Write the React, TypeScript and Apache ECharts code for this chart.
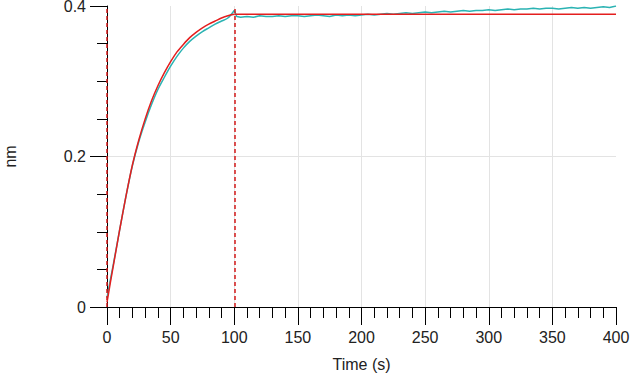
import React, { useEffect, useRef } from "react";
import * as echarts from "echarts";

const assocTimes = [0, 2.5, 5, 10, 15, 20, 25, 30, 35, 40, 45, 50, 55, 60, 65, 70, 75, 80, 85, 90, 95, 100];
const measuredAssoc = [0.012, 0.035, 0.057, 0.103, 0.148, 0.188, 0.22, 0.246, 0.269, 0.289, 0.305, 0.32, 0.333, 0.344, 0.353, 0.36, 0.366, 0.371, 0.376, 0.38, 0.384, 0.394];
const fitAssoc = [0.006, 0.031, 0.055, 0.103, 0.148, 0.189, 0.222, 0.25, 0.274, 0.294, 0.311, 0.326, 0.339, 0.349, 0.358, 0.365, 0.371, 0.376, 0.38, 0.384, 0.387, 0.389];

const dissocTimes = [102, 105, 110, 115, 120, 125, 130, 135, 140, 145, 150, 155, 160, 165, 170, 175, 180, 185, 190, 195, 200, 205, 210, 215, 220, 225, 230, 235, 240, 245, 250, 255, 260, 265, 270, 275, 280, 285, 290, 295, 300, 305, 310, 315, 320, 325, 330, 335, 340, 345, 350, 355, 360, 365, 370, 375, 380, 385, 390, 395, 400];
const measuredDissoc = [0.386, 0.385, 0.386, 0.385, 0.387, 0.386, 0.386, 0.387, 0.386, 0.387, 0.387, 0.386, 0.387, 0.388, 0.387, 0.386, 0.388, 0.387, 0.388, 0.387, 0.388, 0.389, 0.388, 0.389, 0.39, 0.389, 0.39, 0.391, 0.39, 0.391, 0.392, 0.391, 0.392, 0.393, 0.392, 0.393, 0.394, 0.393, 0.394, 0.394, 0.395, 0.394, 0.395, 0.396, 0.395, 0.396, 0.396, 0.397, 0.396, 0.397, 0.397, 0.396, 0.397, 0.398, 0.397, 0.398, 0.397, 0.398, 0.399, 0.398, 0.4];
const fitDissocTimes = [100, 400];
const fitDissoc = [0.389, 0.389];

const markerTimes = [0, 100];
const xTicks = [0, 50, 100, 150, 200, 250, 300, 350, 400];
const yTicks = [0, 0.2, 0.4];

export default function App() {
  const ref = useRef<HTMLDivElement>(null);
  useEffect(() => {
    if (!ref.current) return;
    const chart = echarts.init(ref.current, null, { renderer: "svg" });
    const measuredA = assocTimes.map((t, i) => [t, measuredAssoc[i]]);
    const measuredD = [[100, measuredAssoc[measuredAssoc.length - 1]], ...dissocTimes.map((t, i) => [t, measuredDissoc[i]])];
    const fitA = assocTimes.map((t, i) => [t, fitAssoc[i]]);
    const fitD = fitDissocTimes.map((t, i) => [t, fitDissoc[i]]);
    const font = "Liberation Sans";
    const grey = "#e3e3e3";
    const txt = { fontFamily: font, fontSize: 16, color: "#222" };
    chart.setOption({
      animation: false,
      grid: { left: 107, right: 19, top: 6, bottom: 72, outerBoundsMode: "none", containLabel: false },
      xAxis: {
        type: "value",
        min: xTicks[0],
        max: xTicks[xTicks.length - 1],
        interval: 50,
        name: "Time (s)",
        nameLocation: "middle",
        nameGap: 49,
        nameTextStyle: txt,
        axisLine: { show: true, lineStyle: { color: "#000", width: 1 } },
        axisTick: { show: true, length: 18, lineStyle: { color: "#000", width: 1 } },
        minorTick: { show: true, splitNumber: 5, length: 11, lineStyle: { color: "#000", width: 1 } },
        axisLabel: { margin: 22, ...txt },
        splitLine: {
          show: true,
          lineStyle: {
            color: ["transparent", grey, grey, grey, grey, grey, grey, grey, "transparent"],
            width: 1,
          },
        },
      },
      yAxis: {
        type: "value",
        min: yTicks[0],
        max: yTicks[yTicks.length - 1],
        interval: 0.2,
        name: "nm",
        nameLocation: "middle",
        nameGap: 89,
        nameTextStyle: txt,
        axisLine: { show: true, lineStyle: { color: "#000", width: 1 } },
        axisTick: { show: true, length: 17, lineStyle: { color: "#000", width: 1 } },
        minorTick: { show: true, splitNumber: 4, length: 10, lineStyle: { color: "#000", width: 1 } },
        axisLabel: {
          margin: 21,
          ...txt,
          lineHeight: 12,
          formatter: (v: number) => (v === 0 ? "0" : String(Math.round(v * 10) / 10)),
        },
        splitLine: {
          show: true,
          lineStyle: { color: ["transparent", grey, "transparent"], width: 1 },
        },
      },
      series: [
        {
          type: "line",
          data: measuredA,
          symbol: "none",
          smooth: 0.3,
          lineStyle: { color: "#2bb3b3", width: 1.5 },
          z: 2,
        },
        {
          type: "line",
          data: measuredD,
          symbol: "none",
          lineStyle: { color: "#2bb3b3", width: 1.5 },
          z: 2,
        },
        {
          type: "line",
          data: fitA,
          symbol: "none",
          smooth: 0.3,
          lineStyle: { color: "#e41e1e", width: 1.5 },
          z: 3,
          markLine: {
            silent: true,
            symbol: "none",
            label: { show: false },
            lineStyle: { color: "#d41a1a", type: [4, 3], width: 1.5 },
            data: markerTimes.map((t) => ({ xAxis: t })),
          },
        },
        {
          type: "line",
          data: fitD,
          symbol: "none",
          lineStyle: { color: "#e41e1e", width: 1.5 },
          z: 3,
        },
      ],
    });
    return () => chart.dispose();
  }, []);
  return (
    <div
      ref={ref}
      style={{ position: "fixed", left: 0, top: 0, width: 635, height: 379, background: "#fff" }}
    />
  );
}
